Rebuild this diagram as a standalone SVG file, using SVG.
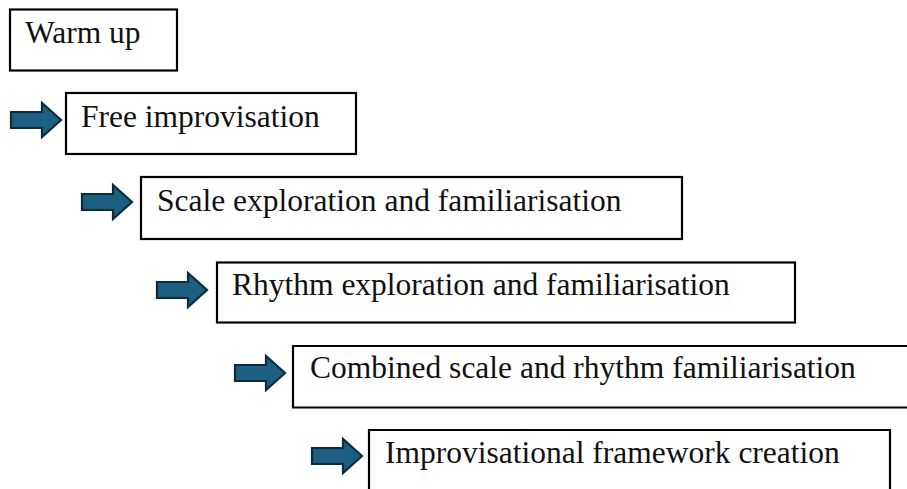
<svg xmlns="http://www.w3.org/2000/svg" width="907" height="489" viewBox="0 0 907 489">
<style>
.box{fill:#fff;stroke:#000;stroke-width:2.2}
.lbl{font-family:"Liberation Serif","Times New Roman",serif;font-size:31.5px;fill:#111}
.arr{fill:#1d5f80;stroke:#0e2b3c;stroke-width:2.2;stroke-linejoin:miter}
</style>
<defs>
<path id="arrowShape" d="M0,-8 L31,-8 L31,-17 L50,0 L31,17 L31,8 L0,8 Z"/>
</defs>
<rect width="907" height="489" fill="#fff"/>
<g id="connectors">
<use href="#arrowShape" class="arr" transform="translate(11,120)"/>
<use href="#arrowShape" class="arr" transform="translate(82,202)"/>
<use href="#arrowShape" class="arr" transform="translate(157,290)"/>
<use href="#arrowShape" class="arr" transform="translate(235,373)"/>
<use href="#arrowShape" class="arr" transform="translate(312,456)"/>
</g>
<g id="n1">
<rect class="box" x="10" y="9.5" width="167" height="61"/>
<text class="lbl" x="25" y="43">Warm up</text>
</g>
<g id="n2">
<rect class="box" x="66" y="93" width="290" height="61"/>
<text class="lbl" x="81" y="127">Free improvisation</text>
</g>
<g id="n3">
<rect class="box" x="141" y="177" width="541" height="62"/>
<text class="lbl" x="157" y="211">Scale exploration and familiarisation</text>
</g>
<g id="n4">
<rect class="box" x="217" y="262.5" width="578" height="60"/>
<text class="lbl" x="232" y="295">Rhythm exploration and familiarisation</text>
</g>
<g id="n5">
<path class="box" d="M908,346 L293,346 L293,407.5 L908,407.5"/>
<text class="lbl" x="310" y="378">Combined scale and rhythm familiarisation</text>
</g>
<g id="n6">
<path class="box" d="M369,490 L369,430 L890,430 L890,490"/>
<text class="lbl" x="385" y="463">Improvisational framework creation</text>
</g>
</svg>
